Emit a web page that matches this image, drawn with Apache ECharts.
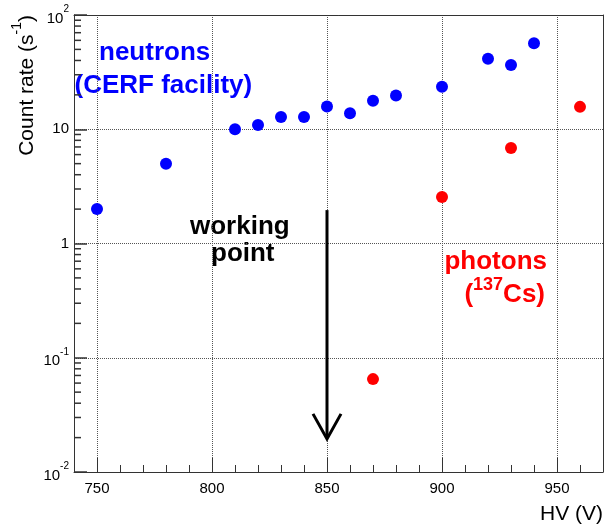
<!DOCTYPE html>
<html><head><meta charset="utf-8">
<script src="https://cdn.jsdelivr.net/npm/echarts@6/dist/echarts.min.js"></script>
<style>html,body{margin:0;padding:0;background:#fff}#c{width:605px;height:526px;background:#fff}</style>
</head><body><div id="c"></div>
<script>
// ---- data ----
const hvNeutrons   = [750, 780, 810, 820, 830, 840, 850, 860, 870, 880, 900, 920, 930, 940];
const rateNeutrons = [2.0, 5.0, 10.0, 10.9, 12.8, 12.8, 15.8, 13.8, 17.8, 19.7, 23.6, 41.5, 36.5, 56.5];
const hvPhotons    = [870, 900, 930, 960];
const ratePhotons  = [0.065, 2.55, 6.85, 15.7];
const xTickLabels  = ['750', '800', '850', '900', '950'];
const yTickValues  = [0.01, 0.1, 1, 10, 100];
const yTickBase    = ['10', '10', '1', '10', '10'];
const yTickSup     = ['-2', '-1', '', '', '2'];
const yMinorValues = [0.02, 0.03, 0.04, 0.05, 0.06, 0.07, 0.08, 0.09,
                      0.2, 0.3, 0.4, 0.5, 0.6, 0.7, 0.8, 0.9,
                      2, 3, 4, 5, 6, 7, 8, 9,
                      20, 30, 40, 50, 60, 70, 80, 90];
const arrowPoint   = [850, 1.96, 0.0195]; // HV, top rate, tip rate
const xMin = 740, xMax = 970, yMin = 0.01, yMax = 100;

const FONT = 'Liberation Sans, Arial, Helvetica, sans-serif';
const AX = '#333';

const chart = echarts.init(document.getElementById('c'));
chart.setOption({
  animation: false,
  grid: {left: 74, right: 2, top: 15, bottom: 54},
  xAxis: [
    {
      type: 'value', min: xMin, max: xMax, position: 'bottom',
      axisLine: {show: true, onZero: false, lineStyle: {color: AX}},
      axisTick: {show: true, inside: true, length: 14, lineStyle: {color: AX}},
      axisLabel: {
        show: true, margin: 9, showMinLabel: false, showMaxLabel: false,
        fontFamily: FONT, fontSize: 15, color: '#000',
        formatter: v => { const s = String(Math.round(v)); return xTickLabels.indexOf(s) >= 0 ? s : ''; }
      },
      splitLine: {show: true, lineStyle: {color: '#555', type: 'dotted'}}
    },
    {
      type: 'value', min: xMin, max: xMax, interval: 10, position: 'bottom',
      axisLine: {show: false, onZero: false},
      axisTick: {show: true, inside: true, length: 7, lineStyle: {color: AX}},
      axisLabel: {show: false}, splitLine: {show: false}
    },
    {
      type: 'value', min: xMin, max: xMax, position: 'top',
      axisLine: {show: true, onZero: false, lineStyle: {color: AX}},
      axisTick: {show: false}, axisLabel: {show: false}, splitLine: {show: false}
    }
  ],
  yAxis: [
    {
      type: 'log', min: yMin, max: yMax, position: 'left',
      axisLine: {show: true, onZero: false, lineStyle: {color: AX}},
      axisTick: {show: true, inside: true, length: 13, lineStyle: {color: AX, width: 1.5}},
      axisLabel: {
        show: true, margin: 5, color: '#000',
        formatter: v => {
          const i = yTickValues.findIndex(t => Math.abs(Math.log10(t) - Math.log10(v)) < 1e-6);
          if (i < 0) return '';
          if (yTickSup[i]) return '{b|' + yTickBase[i] + '}{s|' + yTickSup[i] + '}';
          return '{c|' + yTickBase[i] + '}';
        },
        rich: {
          b: {fontFamily: FONT, fontSize: 15, lineHeight: 16, verticalAlign: 'bottom', color: '#000'},
          s: {fontFamily: FONT, fontSize: 10, lineHeight: 22, verticalAlign: 'top', color: '#000'},
          c: {fontFamily: FONT, fontSize: 15, lineHeight: 16, color: '#000'}
        }
      },
      splitLine: {show: true, lineStyle: {color: '#555', type: 'dotted'}}
    },
    {
      type: 'value', min: 0, max: 1, position: 'right',
      axisLine: {show: true, onZero: false, lineStyle: {color: AX}},
      axisTick: {show: false}, axisLabel: {show: false}, splitLine: {show: false}
    }
  ],
  series: [
    {
      type: 'scatter', xAxisIndex: 0, yAxisIndex: 0, clip: false,
      symbol: 'rect', symbolSize: [7, 1.5], symbolOffset: [3.5, 0],
      itemStyle: {color: AX, opacity: 1},
      data: yMinorValues.map(v => [xMin, v])
    },
    {
      type: 'scatter', xAxisIndex: 0, yAxisIndex: 0, symbol: 'circle', symbolSize: 12,
      itemStyle: {color: '#0000ff', opacity: 1},
      data: hvNeutrons.map((x, i) => [x, rateNeutrons[i]])
    },
    {
      type: 'scatter', xAxisIndex: 0, yAxisIndex: 0, symbol: 'circle', symbolSize: 12,
      itemStyle: {color: '#ff0000', opacity: 1},
      data: hvPhotons.map((x, i) => [x, ratePhotons[i]])
    },
    {
      type: 'custom', xAxisIndex: 0, yAxisIndex: 0, clip: false,
      data: [arrowPoint],
      renderItem: (params, api) => {
        const top = api.coord([api.value(0), api.value(1)]);
        const tip = api.coord([api.value(0), api.value(2)]);
        return {
          type: 'group',
          children: [
            {type: 'line', shape: {x1: top[0], y1: top[1], x2: tip[0], y2: tip[1] - 2},
             style: {stroke: '#000', lineWidth: 3}},
            {type: 'polyline', shape: {points: [[tip[0] - 14, tip[1] - 25], [tip[0], tip[1]], [tip[0] + 14, tip[1] - 25]]},
             style: {stroke: '#000', lineWidth: 3, fill: null}}
          ]
        };
      }
    }
  ],
  graphic: [
    {type: 'text', x: 99, y: 53, style: {text: 'neutrons', fill: '#0000ff', font: 'bold 26px ' + FONT, align: 'left', verticalAlign: 'middle'}},
    {type: 'text', x: 74.5, y: 86, style: {text: '(CERF facility)', fill: '#0000ff', font: 'bold 26px ' + FONT, align: 'left', verticalAlign: 'middle'}},
    {type: 'text', x: 190, y: 227, style: {text: 'working', fill: '#000', font: 'bold 26px ' + FONT, align: 'left', verticalAlign: 'middle'}},
    {type: 'text', x: 211, y: 253.5, style: {text: 'point', fill: '#000', font: 'bold 26px ' + FONT, align: 'left', verticalAlign: 'middle'}},
    {type: 'text', x: 547, y: 261.5, style: {text: 'photons', fill: '#ff0000', font: 'bold 26px ' + FONT, align: 'right', verticalAlign: 'middle'}},
    {type: 'text', x: 545, y: 294.5, style: {
      text: '{b|(}{s|137}{b|Cs)}', align: 'right', verticalAlign: 'middle',
      rich: {
        b: {fontFamily: FONT, fontWeight: 'bold', fontSize: 26, lineHeight: 36, verticalAlign: 'middle', fill: '#ff0000'},
        s: {fontFamily: FONT, fontWeight: 'bold', fontSize: 18, lineHeight: 18, verticalAlign: 'top', fill: '#ff0000'}
      }}},
    {type: 'text', x: 603, y: 514, style: {text: 'HV (V)', fill: '#000', font: '21px ' + FONT, align: 'right', verticalAlign: 'middle'}},
    {type: 'text', x: 24, y: 15, rotation: Math.PI / 2, style: {
      text: '{b|Count rate (s}{s|-1}{b|)}', align: 'right', verticalAlign: 'middle',
      rich: {
        b: {fontFamily: FONT, fontSize: 21, lineHeight: 28, verticalAlign: 'bottom', fill: '#000'},
        s: {fontFamily: FONT, fontSize: 14, lineHeight: 28, verticalAlign: 'top', fill: '#000'}
      }}}
  ]
});
</script>
</body></html>
